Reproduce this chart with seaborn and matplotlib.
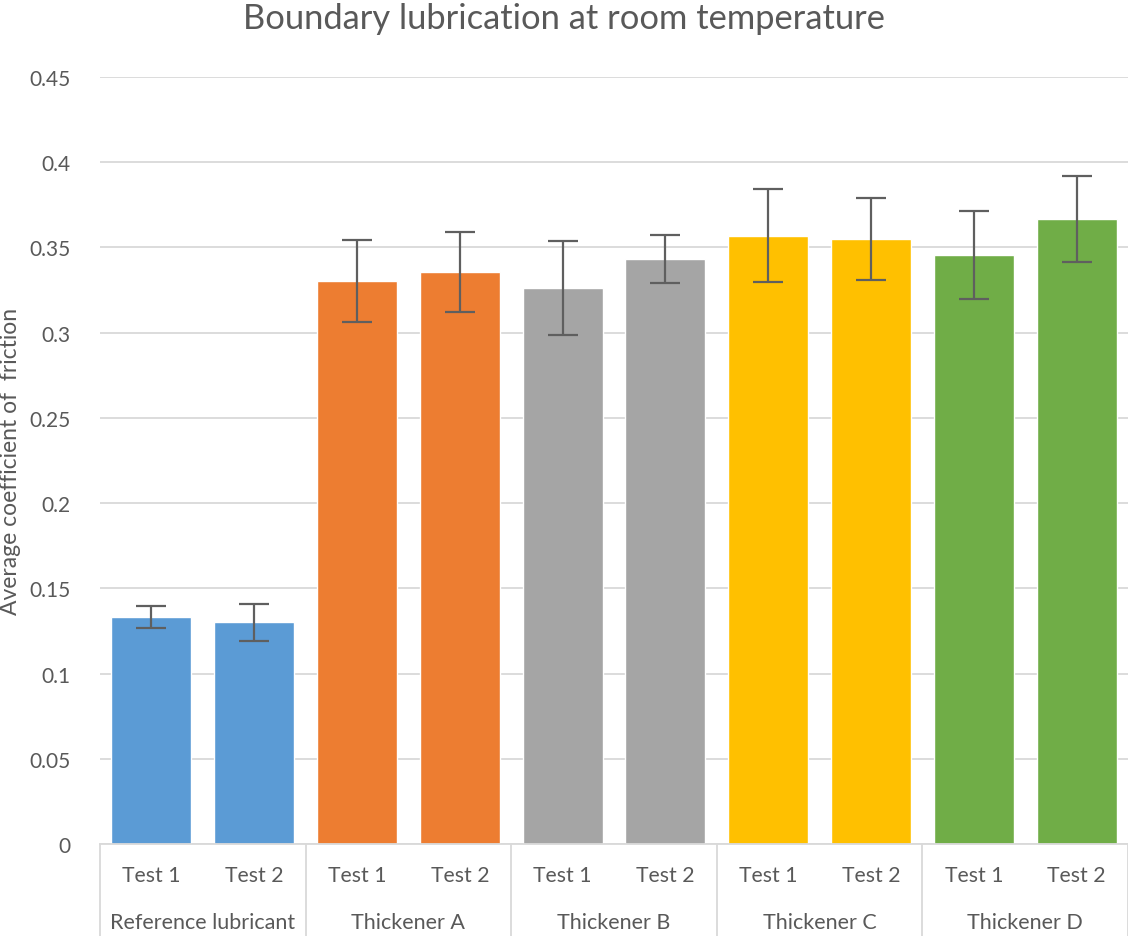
import matplotlib
matplotlib.use("Agg")
import matplotlib.pyplot as plt
import matplotlib.transforms as mtransforms
import seaborn as sns
import pandas as pd
import numpy as np

groups = ["Reference lubricant", "Thickener A", "Thickener B", "Thickener C", "Thickener D"]
tests = ["Test 1", "Test 2"]
means = [0.1332, 0.1301, 0.3303, 0.3356, 0.3262, 0.3432, 0.3568, 0.3550, 0.3456, 0.3668]
errors = [0.0067, 0.0108, 0.0243, 0.0233, 0.0274, 0.0139, 0.0273, 0.0240, 0.0260, 0.0253]
colors = ["#5B9BD5", "#ED7D31", "#A5A5A5", "#FFC000", "#70AD47"]
yticks = [0, 0.05, 0.1, 0.15, 0.2, 0.25, 0.3, 0.35, 0.4, 0.45]
ytick_labels = ["0", "0.05", "0.1", "0.15", "0.2", "0.25", "0.3", "0.35", "0.4", "0.45"]

sns.set_theme(style="white")
plt.rcParams["font.family"] = ["Lato", "DejaVu Sans"]
txt = "#595959"

df = pd.DataFrame({
    "pos": list(range(len(means))),
    "group": [g for g in groups for _ in tests],
    "test": tests * len(groups),
    "value": means,
})

fig = plt.figure(figsize=(11.28, 9.37), dpi=100)
ax = fig.add_axes([100/1128, 92/937, 1 - 100/1128, (845-78)/937])

sns.barplot(data=df, x="pos", y="value", hue="group", palette=colors,
            dodge=False, width=0.78, legend=False, ax=ax, errorbar=None,
            saturation=1)
ax.errorbar(df["pos"], df["value"], yerr=errors, fmt="none",
            ecolor="#5f5f5f", elinewidth=1.6, capsize=11, capthick=1.6, zorder=5)

ax.set_ylim(0, 0.45)
ax.set_xlim(-0.5, 9.5)
ax.set_yticks(yticks)
ax.set_yticklabels(ytick_labels, fontsize=15, color=txt)
ax.yaxis.grid(True, color="#D9D9D9", linewidth=1.3)
ax.set_axisbelow(True)
for s in ["top", "right", "left"]:
    ax.spines[s].set_visible(False)
ax.spines["bottom"].set_color("#D9D9D9")
ax.spines["bottom"].set_linewidth(1.3)
ax.tick_params(axis="y", length=0, pad=21)
ax.tick_params(axis="x", length=0, pad=15)
ax.set_xticks(range(len(means)))
ax.set_xticklabels(tests * len(groups), fontsize=15.3, color=txt)
ax.set_xlabel("")
ax.set_ylabel("Average coefficient of  friction", fontsize=16.5, color=txt)
ax.yaxis.set_label_coords(-0.077, 0.5)

trans = mtransforms.blended_transform_factory(ax.transData, fig.transFigure)
for i in range(len(groups) + 1):
    xline = -0.5 + 2 * i
    ax.plot([xline, xline], [92/937, 0], transform=trans, color="#D9D9D9",
            linewidth=1.3, clip_on=False)
for i, g in enumerate(groups):
    ax.text(2 * i + 0.5, 14/937, g, transform=trans, ha="center", va="center",
            fontsize=15.5, color=txt)

fig.text(0.5, 1 - 19/937, "Boundary lubrication at room temperature",
         ha="center", va="center", fontsize=24.8, color=txt,
         family=["Lato", "DejaVu Sans"])

fig.savefig("out.png", dpi=100)
